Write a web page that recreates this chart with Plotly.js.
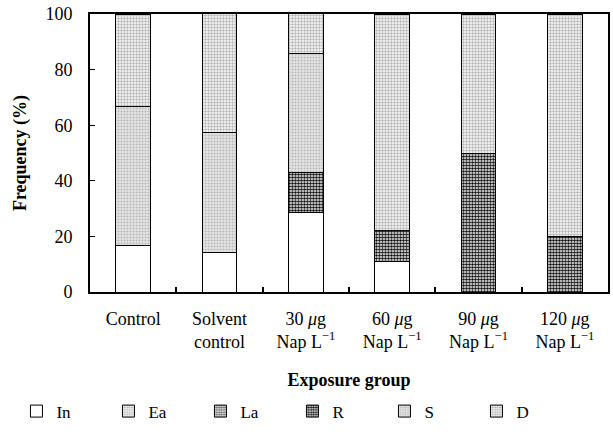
<!DOCTYPE html>
<html>
<head>
<meta charset="utf-8">
<script src="https://cdn.plot.ly/plotly-3.0.1.min.js"></script>
<style>html,body{margin:0;padding:0;background:#fff;}#chart{width:613px;height:436px;}</style>
</head>
<body>
<div id="chart"></div>
<script>
const categories = ["Control", "Solvent<br>control", "30 <i>μ</i>g<br>Nap L<sup>−1</sup>", "60 <i>μ</i>g<br>Nap L<sup>−1</sup>", "90 <i>μ</i>g<br>Nap L<sup>−1</sup>", "120 <i>μ</i>g<br>Nap L<sup>−1</sup>"];
const seriesNames = ["In", "Ea", "La", "R", "S", "D"];
const valIn = [16.7, 14.3, 28.6, 11.1, null, null];
const valEa = [null, null, null, null, null, null];
const valLa = [null, null, null, null, null, null];
const valR  = [null, null, 14.3, 11.1, 50.0, 20.0];
const valS  = [50.0, 42.9, 42.9, null, null, null];
const valD  = [33.3, 42.9, 14.3, 77.8, 50.0, 80.0];
const yTicks = [0, 20, 40, 60, 80, 100];

const patterns = [
  {shape: "", bgcolor: "#ffffff", fgcolor: "#ffffff"},
  {shape: ".", bgcolor: "#ffffff", fgcolor: "#bdbdbd", size: 3, solidity: 0.5},
  {shape: ".", bgcolor: "#ffffff", fgcolor: "#6a6a6a", size: 3, solidity: 0.6},
  {shape: ".", bgcolor: "#ffffff", fgcolor: "#111111", size: 3, solidity: 0.6},
  {shape: ".", bgcolor: "#e6e6e6", fgcolor: "#b8b8b8", size: 3, solidity: 0.4},
  {shape: ".", bgcolor: "#ffffff", fgcolor: "#b4b4b4", size: 3, solidity: 0.5}
];
const allVals = [valIn, valEa, valLa, valR, valS, valD];

const traces = seriesNames.map((n, i) => ({
  type: "bar",
  name: n,
  x: categories,
  y: allVals[i],
  width: 0.4,
  marker: {color: "#ffffff", line: {color: "#000000", width: 1}, pattern: patterns[i]}
}));

const fam = "Liberation Serif";

const layout = {
  barmode: "stack",
  width: 613, height: 436,
  margin: {l: 90, r: 5, t: 14, b: 144},
  paper_bgcolor: "#fff", plot_bgcolor: "#fff",
  font: {family: fam, color: "#000", size: 18},
  showlegend: true,
  legend: {orientation: "h", x: -0.142, xanchor: "left", y: -0.43, yanchor: "middle",
           entrywidth: 47, entrywidthmode: "pixels", traceorder: "normal",
           font: {family: fam, size: 17, color: "#000"}, itemwidth: 30},
  xaxis: {
    type: "category",
    automargin: false,
    tickson: "boundaries",
    ticks: "inside", ticklen: 5, tickwidth: 2, tickcolor: "#000",
    showline: true, linecolor: "#000", linewidth: 2, mirror: true,
    showgrid: false, zeroline: false,
    ticklabelstandoff: 9,
    tickfont: {family: fam, size: 18, color: "#000"},
    title: {text: "<b>Exposure group</b>", font: {family: fam, size: 18, color: "#000"}, standoff: 22}
  },
  yaxis: {
    range: [0, 100],
    automargin: false,
    tickvals: yTicks,
    ticks: "inside", ticklen: 5, tickwidth: 1, tickcolor: "#000",
    showline: true, linecolor: "#000", linewidth: 2, mirror: true,
    showgrid: false, zeroline: false,
    ticklabelstandoff: 12,
    tickfont: {family: fam, size: 18, color: "#000"},
    title: {text: "<b>Frequency (%)</b>", font: {family: fam, size: 18, color: "#000"}, standoff: 14}
  }
};

Plotly.newPlot("chart", traces, layout, {displayModeBar: false, staticPlot: true});
</script>
</body>
</html>
